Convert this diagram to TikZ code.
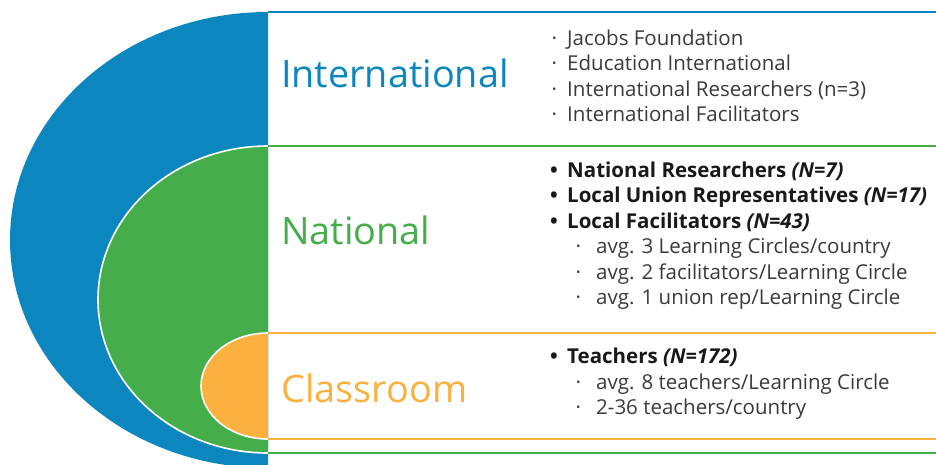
\documentclass[tikz,border=0pt]{standalone}
\usepackage{fontspec}
\setmainfont{Open Sans}
\usepackage{tikz}
\usetikzlibrary{positioning}
\definecolor{LvlBlue}{HTML}{0C86BF}
\definecolor{LvlGreen}{HTML}{45AE4B}
\definecolor{LvlOrange}{HTML}{FBB040}
\definecolor{ItemGray}{HTML}{3A3A3A}

% list markers
\newcommand{\dotmark}{\makebox[17pt][l]{\hspace{1.5pt}\textperiodcentered}}
\newcommand{\bulmark}{\makebox[17pt][l]{\textbullet}}
\newcommand{\subdot}{\makebox[22pt][l]{\hspace{1.5pt}\textperiodcentered}}

\tikzset{
  lvltitle/.style={anchor=base west, inner sep=0pt, font=\fontsize{37.8}{44}\selectfont},
  item/.style={anchor=base west, inner sep=0pt, text=ItemGray, font=\fontsize{20.5}{25}\selectfont},
  boldItem/.style={item, text=black!90, font=\fontsize{20.5}{25}\selectfont\bfseries},
  subItem/.style={item},
  rim/.style={white, line width=1.6pt},
  band/.style={line width=2.2pt}
}

\begin{document}
\begin{tikzpicture}[x=1pt, y=-1pt]
  \useasboundingbox (0,0) rectangle (936,464);
  \clip (0,0) rectangle (936,464);

  % nested half ellipses
  \fill[LvlBlue] (268,12) arc[start angle=270, end angle=90, x radius=258, y radius=228] -- cycle;
  \fill[LvlGreen] (268,146) arc[start angle=270, end angle=90, x radius=170, y radius=153.5] -- cycle;
  \draw[rim] (268,146) arc[start angle=270, end angle=90, x radius=170, y radius=153.5];
  \fill[LvlOrange] (268,333) arc[start angle=270, end angle=90, x radius=67, y radius=53] -- cycle;
  \draw[rim] (268,333) arc[start angle=270, end angle=90, x radius=67, y radius=53];

  % level bands
  \draw[band, LvlBlue] (268,12) -- (936,12);
  \draw[band, LvlGreen] (268,146) -- (936,146);
  \draw[band, LvlOrange] (268,333) -- (936,333);
  \draw[band, LvlOrange] (268,439) -- (936,439);
  \draw[band, LvlGreen] (268,453) -- (936,453);

  % level names
  \node[lvltitle, text=LvlBlue] (intl) at (281,87.5) {International};
  \node[lvltitle, text=LvlGreen] (natl) at (281,244.5) {National};
  \node[lvltitle, text=LvlOrange] (clsr) at (281,402.5) {Classroom};

  % international
  \node[item] (intl1) at (550,45) {\dotmark Jacobs Foundation};
  \node[item] (intl2) at (550,70.5) {\dotmark Education International};
  \node[item] (intl3) at (550,96) {\dotmark International Researchers (n=3)};
  \node[item] (intl4) at (550,121.5) {\dotmark International Facilitators};

  % national
  \node[boldItem] (natl1) at (550,177) {\bulmark National Researchers \textit{(N=7)}};
  \node[boldItem] (natl2) at (550,202.5) {\bulmark Local Union Representatives \textit{(N=17)}};
  \node[boldItem] (natl3) at (550,228) {\bulmark Local Facilitators \textit{(N=43)}};
  \node[subItem] (natl4) at (574,253.5) {\subdot avg. 3 Learning Circles/country};
  \node[subItem] (natl5) at (574,279) {\subdot avg. 2 facilitators/Learning Circle};
  \node[subItem] (natl6) at (574,304.5) {\subdot avg. 1 union rep/Learning Circle};

  % classroom
  \node[boldItem] (clsr1) at (550,363.5) {\bulmark Teachers \textit{(N=172)}};
  \node[subItem] (clsr2) at (574,389) {\subdot avg. 8 teachers/Learning Circle};
  \node[subItem] (clsr3) at (574,414.5) {\subdot 2-36 teachers/country};
\end{tikzpicture}
\end{document}
